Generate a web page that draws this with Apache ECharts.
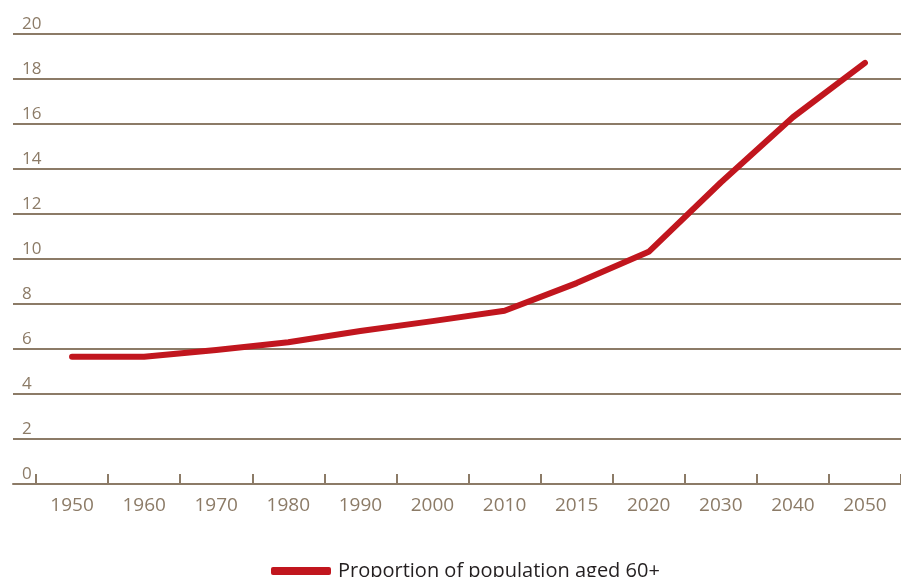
<!DOCTYPE html>
<html>
<head>
<meta charset="utf-8">
<script src="https://cdn.jsdelivr.net/npm/echarts@6/dist/echarts.min.js"></script>
<style>
  html, body { margin: 0; padding: 0; background: #fff; }
  #chart { width: 901px; height: 577px; }
</style>
</head>
<body>
<div id="chart"></div>
<script>
// x categories (years)
const years = ['1950', '1960', '1970', '1980', '1990', '2000', '2010', '2015', '2020', '2030', '2040', '2050']
// proportion of population aged 60+ (%)
const aged60 = [5.66, 5.66, 5.96, 6.3, 6.8, 7.24, 7.7, 8.93, 10.32, 13.4, 16.3, 18.72]
const seriesName = 'Proportion of population aged 60+'

const brown = '#8c7b67'
const red = '#c1161e'
const font = 'Open Sans'

const chart = echarts.init(document.getElementById('chart'))
chart.setOption({
  animation: false,
  textStyle: { fontFamily: font },
  legend: {
    bottom: -9,
    left: 266,
    itemWidth: 60,
    itemHeight: 8,
    icon: 'roundRect',
    textStyle: { fontSize: 20, color: '#231f20', fontFamily: font, padding: [0, 0, 0, 2] },
    data: [seriesName]
  },
  grid: [
    // data area
    { left: 36, right: -3, top: 34, bottom: 93 },
    // full-width area for gridlines and base line
    { left: 13, right: 0, top: 34, bottom: 93 }
  ],
  xAxis: [
    {
      type: 'category',
      gridIndex: 0,
      data: years,
      boundaryGap: true,
      axisLine: { show: false },
      axisTick: {
        show: true,
        inside: true,
        length: 10,
        lineStyle: { color: brown, width: 2 }
      },
      axisLabel: { color: brown, fontSize: 19, margin: 12, fontFamily: font }
    },
    {
      type: 'value',
      gridIndex: 1,
      min: 0,
      max: 1,
      axisLine: { show: true, lineStyle: { color: brown, width: 2 } },
      axisTick: { show: false },
      axisLabel: { show: false },
      splitLine: { show: false }
    }
  ],
  yAxis: [
    {
      type: 'value',
      gridIndex: 0,
      min: 0,
      max: 20,
      show: false
    },
    {
      type: 'value',
      gridIndex: 1,
      min: 0,
      max: 20,
      interval: 2,
      axisLine: { show: false },
      axisTick: { show: false },
      axisLabel: {
        inside: true,
        margin: 9,
        color: brown,
        fontSize: 17,
        verticalAlign: 'bottom',
        padding: [0, 0, 1, 0],
        fontFamily: font
      },
      splitLine: { show: true, lineStyle: { color: brown, width: 2 } }
    }
  ],
  series: [
    {
      name: seriesName,
      type: 'line',
      xAxisIndex: 0,
      yAxisIndex: 0,
      data: aged60,
      symbol: 'none',
      color: red,
      lineStyle: { color: red, width: 6, cap: 'round', join: 'round' },
      z: 5
    }
  ]
})
</script>
</body>
</html>
